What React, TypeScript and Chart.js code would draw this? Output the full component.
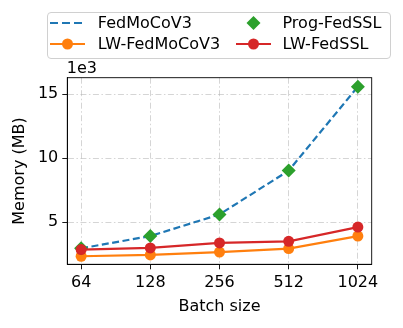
import React, { useEffect, useRef } from 'react';
import { Chart, registerables } from 'chart.js';
Chart.register(...registerables);

const batchSizes = ['64', '128', '256', '512', '1024'];
const fedMoCoV3 = [2950, 3910, 5600, 9030, 15600];
const progFedSSL = [2950, 3910, 5600, 9030, 15600];
const lwFedMoCoV3 = [2330, 2430, 2660, 2930, 3910];
const lwFedSSL = [2850, 2980, 3370, 3500, 4610];
const yTickValues = [5000, 10000, 15000];
const offsetLabel = '1e3';

const FONT = "'DejaVu Sans', sans-serif";
const FS = 16;
const gridColor = 'rgba(176,176,176,0.6)';

const toPts = (arr: number[]) => arr.map((v, i) => ({ x: i, y: v }));

const framePlugin = {
  id: 'frame',
  afterDraw(chart: any) {
    const { ctx, chartArea } = chart;
    ctx.save();
    ctx.strokeStyle = '#000';
    ctx.lineWidth = 0.9;
    ctx.strokeRect(chartArea.left, chartArea.top, chartArea.right - chartArea.left, chartArea.bottom - chartArea.top);
    ctx.fillStyle = '#000';
    ctx.font = `${FS}px ${FONT}`;
    ctx.textAlign = 'left';
    ctx.textBaseline = 'alphabetic';
    ctx.fillText(offsetLabel, chartArea.left - 0.5, chartArea.top - 4.4);
    ctx.restore();
  },
};

function Handle({ kind, color }: { kind: string; color: string }) {
  return (
    <svg width={35} height={20} style={{ display: 'block' }}>
      {kind === 'dash' && (
        <line x1={0} y1={10} x2={35} y2={10} stroke={color} strokeWidth={2.2} strokeDasharray="8 4" />
      )}
      {kind === 'circle' && (
        <>
          <line x1={0} y1={10} x2={35} y2={10} stroke={color} strokeWidth={2.2} />
          <circle cx={17.5} cy={10} r={5.5} fill={color} />
        </>
      )}
      {kind === 'diamond' && <polygon points="10.5,10 17.5,3 24.5,10 17.5,17" fill={color} />}
    </svg>
  );
}

const legendItems = [
  { label: 'FedMoCoV3', kind: 'dash', color: '#1f77b4', hx: 50, tx: 97.8, cy: 23.3 },
  { label: 'LW-FedMoCoV3', kind: 'circle', color: '#ff7f0e', hx: 50, tx: 97.8, cy: 44 },
  { label: 'Prog-FedSSL', kind: 'diamond', color: '#2ca02c', hx: 235.8, tx: 282.5, cy: 23.3 },
  { label: 'LW-FedSSL', kind: 'circle', color: '#d62728', hx: 235.8, tx: 282.5, cy: 44 },
];

export default function App() {
  const ref = useRef<HTMLCanvasElement>(null);
  useEffect(() => {
    if (!ref.current) return;
    const chart = new Chart(ref.current, {
      type: 'line',
      data: {
        datasets: [
          {
            label: 'FedMoCoV3',
            data: toPts(fedMoCoV3),
            borderColor: '#1f77b4',
            backgroundColor: '#1f77b4',
            borderWidth: 2.2,
            borderDash: [7, 3.5],
            pointRadius: 0,
            order: 4,
          },
          {
            label: 'LW-FedMoCoV3',
            data: toPts(lwFedMoCoV3),
            borderColor: '#ff7f0e',
            backgroundColor: '#ff7f0e',
            borderWidth: 2.2,
            pointRadius: 5.5,
            pointBorderWidth: 0,
            order: 3,
          },
          {
            label: 'Prog-FedSSL',
            data: toPts(progFedSSL),
            borderColor: '#2ca02c',
            backgroundColor: '#2ca02c',
            showLine: false,
            pointStyle: 'rectRot',
            pointRadius: 7,
            pointBorderWidth: 0,
            order: 2,
          },
          {
            label: 'LW-FedSSL',
            data: toPts(lwFedSSL),
            borderColor: '#d62728',
            backgroundColor: '#d62728',
            borderWidth: 2.2,
            pointRadius: 5.5,
            pointBorderWidth: 0,
            order: 1,
          },
        ],
      },
      options: {
        animation: false,
        responsive: false,
        devicePixelRatio: 1,
        layout: { padding: { top: 77.7, right: 31.3, left: 0, bottom: 0 } },
        plugins: { legend: { display: false }, tooltip: { enabled: false } },
        scales: {
          x: {
            type: 'linear',
            min: -0.2,
            max: 4.2,
            afterBuildTicks: (s: any) => {
              s.ticks = batchSizes.map((_, i) => ({ value: i }));
            },
            afterFit: (s: any) => {
              s.height = 63.7;
            },
            ticks: {
              callback: (v: any) => batchSizes[Math.round(Number(v))],
              color: '#000',
              font: { size: FS, family: FONT },
              padding: 4,
              autoSkip: false,
              maxRotation: 0,
            },
            grid: { color: gridColor, lineWidth: 0.9, tickLength: 5, tickColor: '#000', tickWidth: 0.9 },
            border: { display: true, color: '#000', width: 0.9, dash: [6, 2.5, 1.5, 2.5] },
            title: {
              display: true,
              text: 'Batch size',
              color: '#000',
              font: { size: FS, family: FONT },
              padding: { top: 0, bottom: 11.5 },
            },
          },
          y: {
            type: 'linear',
            min: 1700,
            max: 16300,
            afterBuildTicks: (s: any) => {
              s.ticks = yTickValues.map((v) => ({ value: v }));
            },
            afterFit: (s: any) => {
              s.width = 67.3;
            },
            ticks: {
              callback: (v: any) => String(Number(v) / 1000),
              color: '#000',
              font: { size: FS, family: FONT },
              padding: 4,
            },
            grid: { color: gridColor, lineWidth: 0.9, tickLength: 5, tickColor: '#000', tickWidth: 0.9 },
            border: { display: true, color: '#000', width: 0.9, dash: [6, 2.5, 1.5, 2.5] },
            title: {
              display: true,
              text: 'Memory (MB)',
              color: '#000',
              font: { size: FS, family: FONT },
              padding: { top: 10.5, bottom: 0 },
            },
          },
        },
      },
      plugins: [framePlugin],
    } as any);
    return () => chart.destroy();
  }, []);

  return (
    <div style={{ position: 'fixed', left: 0, top: 0, width: 403, height: 328, background: '#fff' }}>
      <canvas ref={ref} width={403} height={328} style={{ position: 'absolute', left: 0, top: 0 }} />
      <div
        style={{
          position: 'absolute',
          left: 46.7,
          top: 12,
          width: 344,
          height: 46.7,
          border: '1px solid #d0d0d0',
          borderRadius: 4,
          boxSizing: 'border-box',
          background: 'rgba(255,255,255,0.8)',
        }}
      />
      {legendItems.map((it) => (
        <React.Fragment key={it.label}>
          <div style={{ position: 'absolute', left: it.hx, top: it.cy - 10 }}>
            <Handle kind={it.kind} color={it.color} />
          </div>
          <div
            style={{
              position: 'absolute',
              left: it.tx,
              top: it.cy - 10,
              height: 20,
              lineHeight: '20px',
              fontFamily: FONT,
              fontSize: FS,
              color: '#000',
              whiteSpace: 'nowrap',
            }}
          >
            {it.label}
          </div>
        </React.Fragment>
      ))}
    </div>
  );
}
